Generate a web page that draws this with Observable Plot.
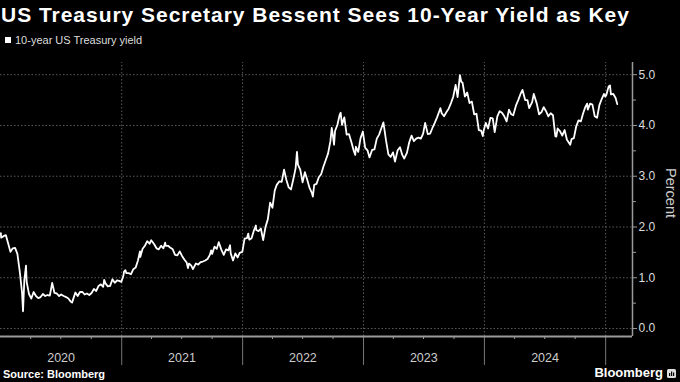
<!DOCTYPE html>
<html>
<head>
<meta charset="utf-8">
<script src="https://cdn.jsdelivr.net/npm/d3@7"></script>
<script src="https://cdn.jsdelivr.net/npm/@observablehq/plot@0.6"></script>
<style>
  html, body { margin: 0; padding: 0; background: #000; }
  body { width: 680px; height: 382px; position: relative; overflow: hidden; font-family: "Liberation Sans", Arial, sans-serif; }
  #title { position: absolute; left: 1px; top: 4px; font-weight: bold; font-size: 21px; line-height: 21px; color: #fff; white-space: nowrap; }
  #legend { position: absolute; left: 5px; top: 34px; font-size: 11px; line-height: 12px; color: #ddd; white-space: nowrap; }
  #legend .sw { display: inline-block; width: 6px; height: 6px; background: #fff; margin-right: 4px; vertical-align: 1px; }
  #chart { position: absolute; left: 0; top: 50px; }
  #ylabel { position: absolute; left: 671px; top: 193px; transform: translate(-50%, -50%) rotate(90deg); font-size: 14.5px; color: #ccc; white-space: nowrap; }
  #source { position: absolute; left: 3px; top: 369px; font-size: 11px; line-height: 11px; font-weight: bold; color: #fff; white-space: nowrap; }
  #logo { position: absolute; right: 4px; top: 366px; font-size: 13px; line-height: 13px; font-weight: bold; color: #fff; white-space: nowrap; }
  #logo svg { vertical-align: -1px; margin-left: 4px; }
</style>
</head>
<body>
<div id="title">US Treasury Secretary Bessent Sees 10-Year Yield as Key</div>
<div id="legend"><span class="sw"></span>10-year US Treasury yield</div>
<div id="chart"></div>
<div id="ylabel">Percent</div>
<div id="source">Source: Bloomberg</div>
<div id="logo">Bloomberg<svg width="9" height="9" viewBox="0 0 9 9"><rect x="0" y="0" width="9" height="9" rx="1.5" fill="#ddd"/><rect x="2" y="4" width="1.2" height="3" fill="#000"/><rect x="4" y="2.5" width="1.2" height="4.5" fill="#000"/><rect x="6" y="3.5" width="1.2" height="3.5" fill="#000"/></svg></div>
<script>
// ---- data: 10-year US Treasury yield (%) ----
const yield2020 = [
  ["01-02",1.88],["01-03",1.79],["01-10",1.82],["01-17",1.84],["01-24",1.68],["01-31",1.51],
  ["02-07",1.58],["02-14",1.59],["02-21",1.47],["02-28",1.13],["03-06",0.71],["03-09",0.34],
  ["03-13",0.96],["03-18",1.24],["03-20",0.92],["03-27",0.68],["04-03",0.59],["04-10",0.72],
  ["04-17",0.64],["04-24",0.60],["05-01",0.62],["05-08",0.68],["05-15",0.64],["05-22",0.66],
  ["05-29",0.65],["06-05",0.90],["06-12",0.70],["06-19",0.69],["06-26",0.64],["07-02",0.67],
  ["07-10",0.64],["07-17",0.62],["07-24",0.59],["07-31",0.53],["08-04",0.51],["08-14",0.71],
  ["08-21",0.64],["08-28",0.72],["09-04",0.72],["09-11",0.67],["09-18",0.69],["09-25",0.66],
  ["10-02",0.70],["10-09",0.78],["10-16",0.74],["10-23",0.84],["10-30",0.87],["11-06",0.82],
  ["11-09",0.96],["11-13",0.89],["11-20",0.83],["11-27",0.84],["12-04",0.97],["12-11",0.90],
  ["12-18",0.95],["12-24",0.94],["12-31",0.92]
];
const yield2021 = [
  ["01-06",1.04],["01-08",1.12],["01-12",1.15],["01-15",1.09],["01-22",1.09],["01-29",1.07],
  ["02-05",1.17],["02-12",1.20],["02-19",1.34],["02-25",1.52],["02-26",1.41],["03-05",1.57],
  ["03-12",1.63],["03-19",1.72],["03-26",1.67],["03-31",1.74],["04-09",1.66],["04-16",1.58],
  ["04-23",1.56],["04-30",1.63],["05-07",1.58],["05-12",1.69],["05-14",1.63],["05-21",1.63],
  ["05-28",1.59],["06-04",1.56],["06-11",1.45],["06-18",1.44],["06-25",1.52],["07-02",1.43],
  ["07-09",1.36],["07-16",1.30],["07-20",1.19],["07-23",1.28],["07-30",1.24],["08-04",1.17],
  ["08-13",1.28],["08-20",1.26],["08-27",1.31],["09-03",1.32],["09-10",1.34],["09-17",1.37],
  ["09-24",1.45],["09-28",1.54],["10-01",1.47],["10-08",1.61],["10-15",1.57],["10-21",1.70],
  ["10-29",1.55],["11-05",1.45],["11-12",1.56],["11-19",1.54],["11-24",1.64],["11-26",1.48],
  ["12-03",1.34],["12-10",1.48],["12-17",1.40],["12-23",1.49],["12-31",1.51]
];
const yield2022 = [
  ["01-07",1.77],["01-14",1.78],["01-18",1.87],["01-21",1.75],["01-28",1.78],["02-04",1.93],
  ["02-10",2.03],["02-11",1.94],["02-18",1.92],["02-25",1.97],["03-04",1.74],["03-11",2.00],
  ["03-18",2.15],["03-25",2.48],["04-01",2.38],["04-08",2.72],["04-14",2.83],["04-22",2.90],
  ["04-29",2.89],["05-06",3.13],["05-13",2.93],["05-20",2.78],["05-27",2.74],["06-03",2.94],
  ["06-10",3.16],["06-14",3.48],["06-17",3.23],["06-24",3.13],["07-01",2.88],["07-08",3.08],
  ["07-15",2.93],["07-22",2.77],["07-29",2.67],["08-01",2.60],["08-05",2.83],["08-12",2.85],
  ["08-19",2.98],["08-26",3.04],["09-02",3.19],["09-09",3.32],["09-16",3.45],["09-23",3.69],
  ["09-27",3.95],["09-30",3.83],["10-04",3.62],["10-07",3.89],["10-14",4.01],["10-21",4.21],
  ["10-24",4.25],["10-28",4.01],["11-04",4.16],["11-11",3.82],["11-18",3.83],["11-25",3.68],
  ["12-02",3.51],["12-07",3.42],["12-09",3.58],["12-16",3.48],["12-23",3.75],["12-30",3.88]
];
const yield2023 = [
  ["01-06",3.56],["01-13",3.51],["01-19",3.37],["01-27",3.52],["02-03",3.53],["02-10",3.74],
  ["02-17",3.82],["02-24",3.95],["03-02",4.06],["03-10",3.70],["03-17",3.43],["03-24",3.38],
  ["03-31",3.47],["04-06",3.29],["04-14",3.51],["04-21",3.57],["04-28",3.42],["05-04",3.35],
  ["05-12",3.46],["05-19",3.67],["05-26",3.80],["06-02",3.69],["06-09",3.74],["06-16",3.76],
  ["06-23",3.74],["06-30",3.84],["07-06",4.05],["07-14",3.83],["07-21",3.84],["07-28",3.95],
  ["08-04",4.05],["08-11",4.16],["08-21",4.34],["08-25",4.24],["09-01",4.18],["09-08",4.26],
  ["09-15",4.33],["09-22",4.44],["09-29",4.57],["10-06",4.80],["10-12",4.56],["10-19",4.99],
  ["10-23",4.86],["10-27",4.84],["11-03",4.57],["11-10",4.65],["11-17",4.44],["11-24",4.47],
  ["12-01",4.22],["12-08",4.23],["12-15",3.91],["12-22",3.90],["12-27",3.79],["12-29",3.88]
];
const yield2024 = [
  ["01-05",4.05],["01-12",3.94],["01-19",4.15],["01-26",4.14],["02-01",3.87],["02-09",4.18],
  ["02-16",4.28],["02-23",4.25],["03-01",4.18],["03-08",4.08],["03-15",4.31],["03-22",4.22],
  ["03-28",4.20],["04-05",4.39],["04-12",4.50],["04-19",4.62],["04-25",4.70],["05-03",4.50],
  ["05-10",4.50],["05-15",4.34],["05-24",4.46],["05-29",4.62],["06-07",4.43],["06-14",4.22],
  ["06-21",4.26],["06-28",4.36],["07-05",4.28],["07-12",4.18],["07-19",4.24],["07-26",4.20],
  ["08-02",3.79],["08-05",3.78],["08-09",3.94],["08-16",3.89],["08-23",3.80],["08-30",3.91],
  ["09-06",3.72],["09-16",3.62],["09-20",3.73],["09-27",3.75],["10-04",3.98],["10-11",4.10],
  ["10-18",4.08],["10-25",4.24],["11-01",4.37],["11-06",4.43],["11-08",4.31],["11-15",4.43],
  ["11-22",4.41],["11-29",4.18],["12-06",4.15],["12-13",4.40],["12-20",4.52],["12-27",4.62],
  ["12-31",4.57]
];
const yield2025 = [
  ["01-03",4.60],["01-10",4.77],["01-14",4.79],["01-17",4.61],["01-24",4.62],["01-31",4.54],
  ["02-05",4.42]
];
const yearLabels = ["2020", "2021", "2022", "2023", "2024"];
const yTicks = [0, 1, 2, 3, 4, 5];
const yMinorTicks = [0.5, 1.5, 2.5, 3.5, 4.5];

// ---- build table ----
const byYear = {2020: yield2020, 2021: yield2021, 2022: yield2022, 2023: yield2023, 2024: yield2024, 2025: yield2025};
const data = [];
for (const [yr, rows] of Object.entries(byYear)) {
  for (const [md, v] of rows) data.push({date: new Date(`${yr}-${md}T00:00:00Z`), value: v});
}

const xStart = new Date("2020-01-01T00:00:00Z");
const xEnd = new Date("2025-03-23T00:00:00Z");
const yLo = -0.157, yHi = 5.24, yBelow = -0.728, yLabelPos = -0.59;
const yearStarts = ["2021","2022","2023","2024","2025"].map(y => new Date(`${y}-01-01T00:00:00Z`));
const yearMids = yearLabels.map(y => new Date(`${y}-07-02T00:00:00Z`));
const quarters = [];
for (let y = 2020; y <= 2025; y++) for (const m of ["04","07","10"]) {
  const d = new Date(`${y}-${m}-01T00:00:00Z`);
  if (d < xEnd) quarters.push(d);
}

const grid = "#5a5a5a";
const axisCol = "#9a9a9a";
const chart = Plot.plot({
  width: 680, height: 328,
  marginLeft: 0, marginRight: 48, marginTop: 12, marginBottom: 42,
  style: {background: "#000", color: "#ddd", fontFamily: "'Liberation Sans', Arial, sans-serif", fontSize: "12px"},
  x: {type: "utc", domain: [xStart, xEnd]},
  y: {domain: [yLo, yHi]},
  marks: [
    Plot.ruleY(yTicks, {stroke: grid, strokeDasharray: "1.5,2"}),
    Plot.ruleX(yearStarts, {y1: yLo, y2: yHi, stroke: grid, strokeDasharray: "1.5,2"}),
    Plot.ruleX(yearStarts, {y1: yBelow, y2: yLo, stroke: "#777"}),
    Plot.ruleY([yLo], {stroke: axisCol, strokeWidth: 2}),
    Plot.ruleX([xEnd], {y1: yLo, y2: yHi, stroke: axisCol, strokeWidth: 1.5}),
    Plot.axisX({ticks: quarters, tickSize: 3, tickFormat: () => "", stroke: axisCol, label: null}),
    Plot.text(yearMids, {x: d => d, y: yLabelPos, text: (d, i) => yearLabels[i], fill: "#ccc", fontSize: 12.5}),
    Plot.axisY({anchor: "right", ticks: yTicks, tickSize: 4, tickPadding: 2, tickFormat: d3.format(".1f"), stroke: axisCol, fill: "#ddd", fontSize: 12, label: null}),
    Plot.axisY({anchor: "right", ticks: yMinorTicks, tickSize: 3, tickFormat: () => "", stroke: axisCol, label: null}),
    Plot.lineY(data, {x: "date", y: "value", stroke: "#fff", strokeWidth: 1.8, strokeLinejoin: "round"})
  ]
});
document.getElementById("chart").append(chart);

// fit title to its width in the reference
const t = document.getElementById("title");
const w = t.getBoundingClientRect().width;
const n = t.textContent.length;
t.style.letterSpacing = ((628 - w) / (n - 1)).toFixed(2) + "px";
</script>
</body>
</html>
